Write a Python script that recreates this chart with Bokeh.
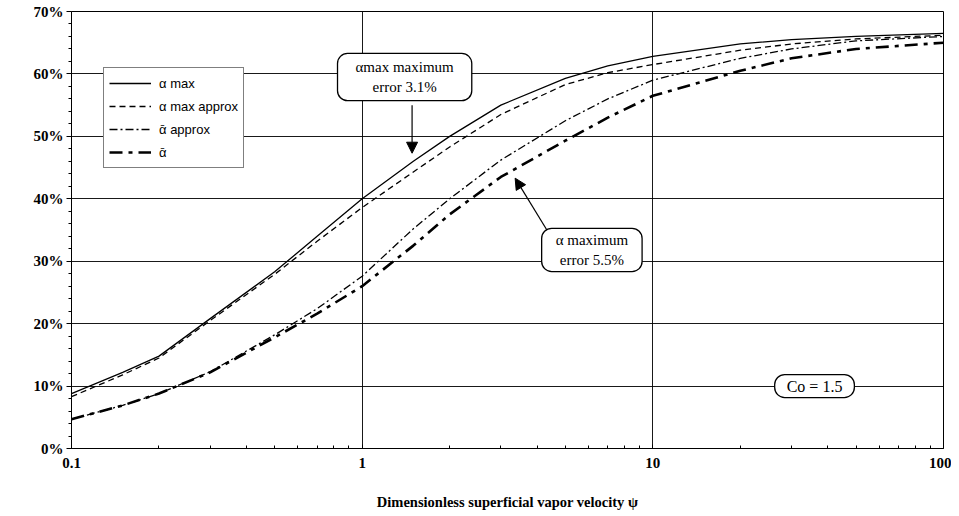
from bokeh.plotting import figure
from bokeh.models import (FixedTicker, PrintfTickFormatter, Legend, LegendItem,
                          Label, Arrow, NormalHead)
from bokeh.embed import file_html
from bokeh.resources import INLINE

# ---- data (values in %) ----
psi = [0.1, 0.15, 0.2, 0.3, 0.5, 0.7, 1, 1.5, 2, 3, 5, 7, 10, 20, 30, 50, 100]
alpha_max = [8.8, 12.2, 14.8, 20.8, 28.3, 34.0, 40.0, 46.0, 50.0, 55.0, 59.3, 61.3, 62.8, 64.8, 65.5, 66.0, 66.5]
alpha_max_approx = [8.3, 11.8, 14.5, 20.5, 27.9, 33.2, 38.6, 44.3, 48.3, 53.5, 58.3, 60.2, 61.5, 63.8, 64.8, 65.6, 66.2]
alpha_bar_approx = [4.7, 6.9, 8.8, 12.3, 18.2, 22.4, 27.6, 35.2, 40.0, 46.2, 52.5, 56.0, 59.0, 62.5, 64.0, 65.3, 66.0]
alpha_bar = [4.7, 6.9, 8.8, 12.2, 17.8, 21.6, 26.0, 32.5, 37.5, 43.5, 49.3, 53.0, 56.5, 60.5, 62.5, 64.0, 65.0]

x_ticks = [0.1, 1, 10, 100]
x_tick_labels = ["0.1", "1", "10", "100"]
y_ticks = [0, 10, 20, 30, 40, 50, 60, 70]

legend_labels = ["α max", "α max approx", "ᾱ approx", "ᾱ"]

note1_text = "αmax maximum\nerror 3.1%"
note1_pos = (1.40, 59.5)
arrow1 = (1.485, 55.0, 1.485, 47.3)
note2_text = "α maximum\nerror 5.5%"
note2_pos = (6.17, 31.8)
arrow2 = (4.32, 35.0, 3.36, 43.3)
note3_text = "Co = 1.5"
note3_pos = (36.0, 10.0)

SERIF = "Liberation Serif"
SANS = "Liberation Sans"

p = figure(width=951, height=514, x_axis_type="log", x_range=(0.1, 100), y_range=(0, 70),
           output_backend="svg", toolbar_location=None,
           min_border_left=71, min_border_right=8, min_border_top=11, min_border_bottom=66)

p.outline_line_color = "black"
p.outline_line_width = 1
p.background_fill_color = "white"

# axes
xminor = [m * d for d in (0.1, 1, 10) for m in range(2, 10)]
p.xaxis.ticker = FixedTicker(ticks=x_ticks, minor_ticks=xminor)
p.xaxis.major_label_overrides = {t: l for t, l in zip(x_ticks, x_tick_labels)}
p.xaxis.major_tick_in = 4
p.xaxis.major_tick_out = 0
p.xaxis.minor_tick_in = 3
p.xaxis.minor_tick_out = 0
p.xaxis.major_label_standoff = 9
p.xaxis.axis_label = "Dimensionless superficial vapor velocity ψ"
p.xaxis.axis_label_text_font = SERIF
p.xaxis.axis_label_text_font_style = "bold"
p.xaxis.axis_label_text_font_size = "14.5px"
p.xaxis.axis_label_text_color = "black"
p.xaxis.axis_label_standoff = 23

yminor = [v for v in range(0, 71, 2) if v % 10 != 0]
p.yaxis.ticker = FixedTicker(ticks=y_ticks, minor_ticks=yminor)
p.yaxis.formatter = PrintfTickFormatter(format="%d%%")
p.yaxis.major_tick_in = 0
p.yaxis.major_tick_out = 5
p.yaxis.minor_tick_in = 0
p.yaxis.minor_tick_out = 3
p.yaxis.major_label_standoff = 3

for ax in (p.xaxis, p.yaxis):
    ax.major_label_text_font = SERIF
    ax.major_label_text_font_style = "bold"
    ax.major_label_text_font_size = "15px"
    ax.major_label_text_color = "black"
    ax.axis_line_color = "black"
    ax.major_tick_line_color = "black"
    ax.minor_tick_line_color = "black"

p.xgrid.ticker = FixedTicker(ticks=[1, 10])
p.ygrid.ticker = FixedTicker(ticks=y_ticks)
p.grid.grid_line_color = "black"
p.grid.grid_line_width = 1
p.grid.grid_line_alpha = 0.9

# curves
r1 = p.line(psi, alpha_max, line_color="black", line_width=1.3)
r2 = p.line(psi, alpha_max_approx, line_color="black", line_width=1.3, line_dash="6 4")
r3 = p.line(psi, alpha_bar_approx, line_color="black", line_width=1.3, line_dash="8 3 2 3")
r4 = p.line(psi, alpha_bar, line_color="black", line_width=2.6, line_dash="13 6 4 6")

legend = Legend(items=[LegendItem(label=l, renderers=[r]) for l, r in zip(legend_labels, [r1, r2, r3, r4])],
                location=(32, 280), border_line_color="black", border_line_width=1,
                background_fill_color="white", background_fill_alpha=1,
                label_text_font=SANS, label_text_font_size="13px", label_text_color="black",
                glyph_width=42, glyph_height=20, label_height=20, spacing=3, padding=5,
                margin=0, label_standoff=8)
p.add_layout(legend, "center")

# y axis title
p.add_layout(Label(x=0.1, y=36, x_offset=-58, text="α", text_font=SANS, text_font_size="16px",
                   text_align="center", text_baseline="middle"))

# notes
def note(text, pos, size, pad):
    return Label(x=pos[0], y=pos[1], text=text, text_font=SERIF, text_font_size=size,
                 text_align="center", text_baseline="middle", text_color="black",
                 background_fill_color="white", background_fill_alpha=1,
                 border_line_color="black", border_line_width=1.3,
                 border_radius=10, padding=pad)

p.add_layout(note(note1_text, note1_pos, "15px", (18, 6)))
p.add_layout(note(note2_text, note2_pos, "15px", (14, 4)))
p.add_layout(note(note3_text, note3_pos, "16px", (12, 3)))

for a in (arrow1, arrow2):
    p.add_layout(Arrow(x_start=a[0], y_start=a[1], x_end=a[2], y_end=a[3], line_color="black",
                       line_width=1.2,
                       end=NormalHead(size=11, fill_color="black", line_color="black")))

open("out.html", "w").write(file_html(p, INLINE))
